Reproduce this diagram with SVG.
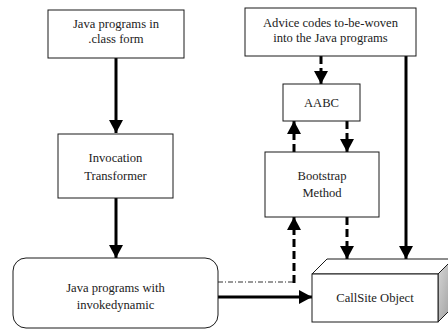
<svg xmlns="http://www.w3.org/2000/svg" width="448" height="331" viewBox="0 0 448 331">
  <style>
    .box { fill: #ffffff; stroke: #1a1a1a; stroke-width: 1; }
    .lbl { font-family: 'Liberation Serif', 'DejaVu Serif', serif; font-size: 12.6px; fill: #222222; text-anchor: middle; }
    .solid { stroke: #000000; stroke-width: 3; fill: none; }
    .dash { stroke: #000000; stroke-width: 3; fill: none; stroke-dasharray: 8 4; }
    .dashdot { stroke: #333333; stroke-width: 1; fill: none; stroke-dasharray: 5 2 1 2; }
  </style>
  <defs>
    <marker id="head" markerUnits="userSpaceOnUse" markerWidth="14" markerHeight="14" viewBox="0 0 14 14" refX="13" refY="7" orient="auto">
      <path d="M0,0 L13,7 L0,14 Z" fill="#000000"/>
    </marker>
    <linearGradient id="side" x1="0" y1="0" x2="1" y2="1">
      <stop offset="0" stop-color="#d8d8d8"/>
      <stop offset="1" stop-color="#9a9a9a"/>
    </linearGradient>
  </defs>
  <rect width="448" height="331" fill="#ffffff"/>

  <g id="connectors">
    <line class="solid" x1="116" y1="58" x2="116" y2="133" marker-end="url(#head)"/>
    <line class="solid" x1="116" y1="198" x2="116" y2="258" marker-end="url(#head)"/>
    <line class="dash" x1="321" y1="56" x2="321" y2="84" marker-end="url(#head)"/>
    <line class="dash" x1="294" y1="152" x2="294" y2="121" marker-end="url(#head)"/>
    <line class="dash" x1="347" y1="121" x2="347" y2="152" marker-end="url(#head)"/>
    <line class="dash" x1="347" y1="217" x2="347" y2="259" marker-end="url(#head)"/>
    <line class="solid" x1="406" y1="56" x2="406" y2="259" marker-end="url(#head)"/>
    <polyline class="dashdot" points="218,282 294,282"/>
    <line class="dash" x1="294" y1="283" x2="294" y2="217" marker-end="url(#head)"/>
    <line class="solid" x1="218" y1="297" x2="312" y2="297" marker-end="url(#head)"/>
  </g>

  <g id="class-programs">
    <rect class="box" x="48" y="10" width="136" height="48"/>
    <text class="lbl" x="116" y="28">Java programs in</text>
    <text class="lbl" x="116" y="43">.class form</text>
  </g>

  <g id="invocation-transformer">
    <rect class="box" x="58" y="134" width="115" height="64"/>
    <text class="lbl" x="115.5" y="162">Invocation</text>
    <text class="lbl" x="115.5" y="180">Transformer</text>
  </g>

  <g id="indy-programs">
    <rect class="box" x="13" y="258" width="205" height="70" rx="13" ry="13"/>
    <text class="lbl" x="115.5" y="292">Java programs with</text>
    <text class="lbl" x="115.5" y="309">invokedynamic</text>
  </g>

  <g id="advice-codes">
    <rect class="box" x="245" y="8" width="171" height="48"/>
    <text class="lbl" x="330.5" y="27">Advice codes to-be-woven</text>
    <text class="lbl" x="330.5" y="42">into the Java programs</text>
  </g>

  <g id="aabc">
    <rect class="box" x="283" y="84" width="77" height="37"/>
    <text class="lbl" x="321.5" y="107">AABC</text>
  </g>

  <g id="bootstrap-method">
    <rect class="box" x="265" y="152" width="114" height="65"/>
    <text class="lbl" x="322" y="180">Bootstrap</text>
    <text class="lbl" x="322" y="197">Method</text>
  </g>

  <g id="callsite-object">
    <polygon points="312,274 327,259 453,259 438,274" fill="#ffffff" stroke="#1a1a1a" stroke-width="1"/>
    <polygon points="438,274 453,259 453,307 438,322" fill="url(#side)" stroke="#1a1a1a" stroke-width="1"/>
    <rect class="box" x="312" y="274" width="126" height="48"/>
    <text class="lbl" x="375" y="302">CallSite Object</text>
  </g>
</svg>
